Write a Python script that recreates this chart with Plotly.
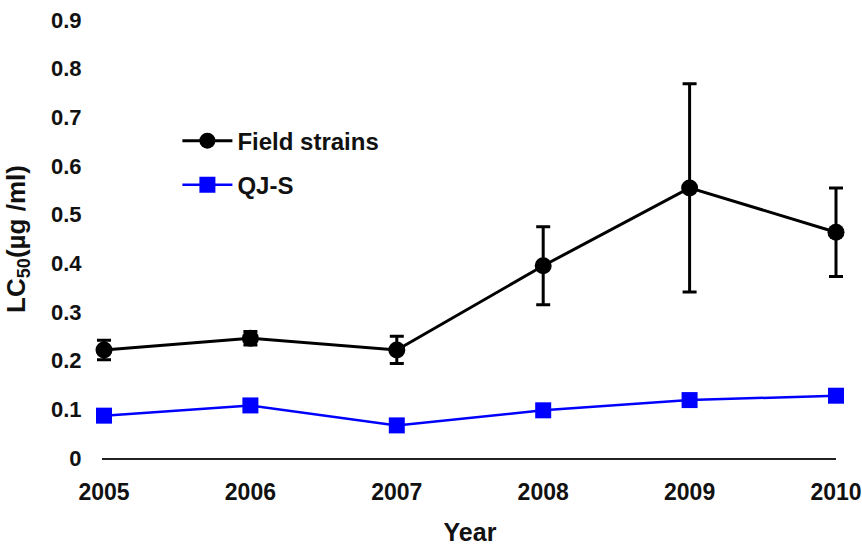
import plotly.graph_objects as go

years = [2005, 2006, 2007, 2008, 2009, 2010]
field_lc50 = [0.222, 0.246, 0.222, 0.395, 0.555, 0.464]
field_err = [0.020, 0.014, 0.028, 0.080, 0.214, 0.091]
qjs_lc50 = [0.087, 0.108, 0.067, 0.098, 0.119, 0.128]
y_ticks = [0, 0.1, 0.2, 0.3, 0.4, 0.5, 0.6, 0.7, 0.8, 0.9]

FONT = "Liberation Sans, Arial, sans-serif"

# Frame geometry (px): the visible axes run from 2005 to 2010, while the
# data are drawn on a slightly wider hidden axis so caps at the ends are not clipped.
W, H = 862, 548
ML, MR, MT, MB = 90, 12, 20, 90
PAD = 14
plot_w = W - ML - MR
inner_w = plot_w - 2 * PAD
yr_px = inner_w / (years[-1] - years[0])
pad_yr = PAD / yr_px

fig = go.Figure()

# empty trace that holds the visible x/y frame
fig.add_trace(go.Scatter(x=[], y=[], xaxis="x", yaxis="y",
                         showlegend=False, hoverinfo="skip"))

fig.add_trace(go.Scatter(
    x=years, y=field_lc50, name="Field strains", mode="lines+markers",
    legendgroup="field", xaxis="x2", yaxis="y",
    line=dict(color="#000000", width=3),
    marker=dict(symbol="circle", size=17, color="#000000"),
    error_y=dict(type="data", array=field_err, visible=True,
                 color="#000000", thickness=3, width=7),
    cliponaxis=False,
))

fig.add_trace(go.Scatter(
    x=years, y=qjs_lc50, name="QJ-S", mode="lines+markers",
    legendgroup="qjs", xaxis="x2", yaxis="y",
    line=dict(color="#0000FF", width=2.5),
    marker=dict(symbol="square", size=16, color="#0000FF"),
    cliponaxis=False,
))

fig.update_layout(
    width=W, height=H,
    margin=dict(l=ML, r=MR, t=MT, b=MB),
    paper_bgcolor="white", plot_bgcolor="white",
    font=dict(family=FONT, size=20, color="#111111"),
    showlegend=True,
    legend=dict(
        x=0.115, y=0.775, xanchor="left", yanchor="top",
        bgcolor="rgba(0,0,0,0)", borderwidth=0,
        font=dict(family=FONT, size=24, color="#111111", weight="bold"),
        tracegroupgap=10, itemwidth=50,
    ),
    xaxis=dict(
        domain=[PAD / plot_w, 1 - PAD / plot_w], anchor="y",
        range=[years[0], years[-1]], tickmode="array", tickvals=years,
        ticktext=[str(y) for y in years],
        showgrid=False, zeroline=False, automargin=False,
        showline=True, linecolor="#222222", linewidth=2,
        ticks="inside", ticklen=6, tickwidth=2, tickcolor="#222222",
        tickfont=dict(family=FONT, size=23, color="#111111", weight="bold"),
        ticklabelstandoff=12,
        title=dict(text="Year", standoff=20,
                   font=dict(family=FONT, size=25, color="#111111", weight="bold")),
    ),
    xaxis2=dict(
        domain=[0, 1], anchor="y", visible=False,
        range=[years[0] - pad_yr, years[-1] + pad_yr],
        showgrid=False, zeroline=False,
    ),
    yaxis=dict(
        range=[0, 0.9], tickmode="array", tickvals=y_ticks, anchor="x",
        ticktext=["0" if v == 0 else f"{v:.1f}" for v in y_ticks],
        showgrid=False, zeroline=False, automargin=False,
        showline=True, linecolor="#222222", linewidth=2,
        ticks="inside", ticklen=6, tickwidth=2, tickcolor="#222222",
        tickfont=dict(family=FONT, size=22, color="#111111", weight="bold"),
        ticklabelstandoff=16,
        title=dict(text="LC<sub>50</sub>(µg /ml)", standoff=18,
                   font=dict(family=FONT, size=26, color="#111111", weight="bold")),
    ),
)

fig.write_html("out.html")
